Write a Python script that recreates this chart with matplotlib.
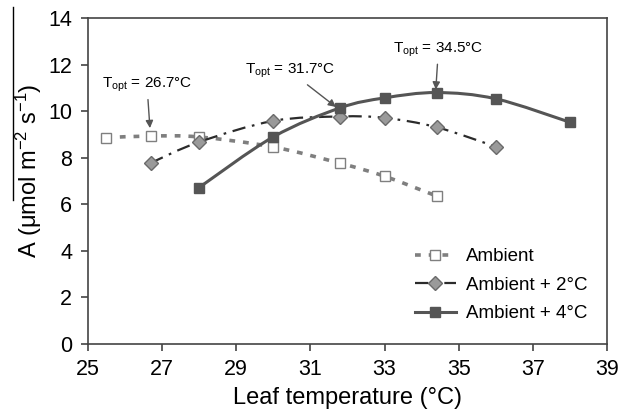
import matplotlib
matplotlib.use("Agg")
import matplotlib.pyplot as plt
from matplotlib.path import Path
from matplotlib.patches import PathPatch
from matplotlib.lines import Line2D
import numpy as np

plt.rcParams['font.family'] = ['Liberation Sans', 'DejaVu Sans']
plt.rcParams['mathtext.fontset'] = 'custom'
plt.rcParams['mathtext.rm'] = 'Liberation Sans'
plt.rcParams['mathtext.it'] = 'Liberation Sans:italic'

# leaf temperature (°C) and A (umol m-2 s-1)
amb_t = [25.5, 26.7, 28.0, 30.0, 31.8, 33.0, 34.4]
amb_a = [8.86, 8.93, 8.89, 8.46, 7.76, 7.20, 6.35]

amb2_t = [26.7, 28.0, 30.0, 31.8, 33.0, 34.4, 36.0]
amb2_a = [7.77, 8.67, 9.58, 9.77, 9.71, 9.31, 8.47]

amb4_t = [28.0, 30.0, 31.8, 33.0, 34.4, 36.0, 38.0]
amb4_a = [6.71, 8.89, 10.14, 10.57, 10.80, 10.53, 9.52]

x_ticks = [25, 27, 29, 31, 33, 35, 37, 39]
y_ticks = [0, 2, 4, 6, 8, 10, 12, 14]


def smooth_path(x, y):
    # Catmull-Rom style bezier through the points (like a smoothed line)
    p = np.column_stack([x, y])
    n = len(p)
    verts = [p[0]]
    codes = [Path.MOVETO]
    for i in range(n - 1):
        p0 = p[i - 1] if i > 0 else p[i]
        p3 = p[i + 2] if i + 2 < n else p[i + 1]
        c1 = p[i] + (p[i + 1] - p0) / 6
        c2 = p[i + 1] - (p3 - p[i]) / 6
        verts += [c1, c2, p[i + 1]]
        codes += [Path.CURVE4] * 3
    return Path(verts, codes)


fig = plt.figure(figsize=(6.3, 4.13), dpi=100)
ax = fig.add_axes([0.139, 0.168, 0.825, 0.788])

styles = [
    (amb_t, amb_a, dict(color='#7f7f7f', lw=2.6, ls=(0, (1.6, 2.2))),
     dict(marker='s', ms=7, mfc='white', mec='#7f7f7f', mew=1.0), 'Ambient'),
    (amb2_t, amb2_a, dict(color='#2b2b2b', lw=1.6, ls=(0, (6, 3, 1.2, 3))),
     dict(marker='D', ms=7, mfc='#9a9a9a', mec='#6a6a6a', mew=1.0), 'Ambient + 2\u00b0C'),
    (amb4_t, amb4_a, dict(color='#555555', lw=2.2, ls='-'),
     dict(marker='s', ms=7, mfc='#555555', mec='#555555', mew=1.0), 'Ambient + 4\u00b0C'),
]

handles = []
for t, a, lstyle, mstyle, label in styles:
    patch = PathPatch(smooth_path(t, a), fill=False, edgecolor=lstyle['color'],
                      lw=lstyle['lw'], linestyle=lstyle['ls'], zorder=2)
    ax.add_patch(patch)
    ax.plot(t, a, ls='none', zorder=3, **mstyle)
    handles.append(Line2D([], [], color=lstyle['color'], lw=lstyle['lw'],
                          linestyle=lstyle['ls'], label=label, **mstyle))

ax.set_xlim(25, 39)
ax.set_ylim(0, 14)
ax.set_xticks(x_ticks)
ax.set_yticks(y_ticks)
ax.tick_params(labelsize=15.5, length=5, width=1.2, color='#444444', pad=6)
for s in ax.spines.values():
    s.set_color('#444444')
    s.set_linewidth(1.2)

ax.set_xlabel('Leaf temperature (\u00b0C)', fontsize=17, labelpad=5)
ax.set_ylabel('A (\u03bcmol m$^{-2}$ s$^{-1}$)', fontsize=17)
ax.yaxis.set_label_coords(-0.083, 0.53)

arrow = dict(arrowstyle='-|>', color='#555555', lw=1.0, mutation_scale=11,
             shrinkA=2, shrinkB=0)
ax.annotate('T$_{\\rm opt}$ = 26.7\u00b0C', xy=(26.68, 9.27), xytext=(26.6, 11.13),
            ha='center', va='center', fontsize=11, arrowprops=arrow)
ax.annotate('T$_{\\rm opt}$ = 31.7\u00b0C', xy=(31.69, 10.18), xytext=(30.45, 11.72),
            ha='center', va='center', fontsize=11, arrowprops=arrow)
ax.annotate('T$_{\\rm opt}$ = 34.5\u00b0C', xy=(34.38, 10.93), xytext=(34.45, 12.65),
            ha='center', va='center', fontsize=11, arrowprops=arrow)

ax.legend(handles=handles, loc='lower left', bbox_to_anchor=(0.615, 0.043),
          frameon=False, fontsize=13.5, handlelength=2.2, labelspacing=0.6,
          handletextpad=0.55, borderaxespad=0)

# thin line next to the y label, as in the source image
fig.add_artist(Line2D([0.021, 0.021], [0.516, 0.983], color='black', lw=1.0))

fig.savefig('out.png', dpi=100)
